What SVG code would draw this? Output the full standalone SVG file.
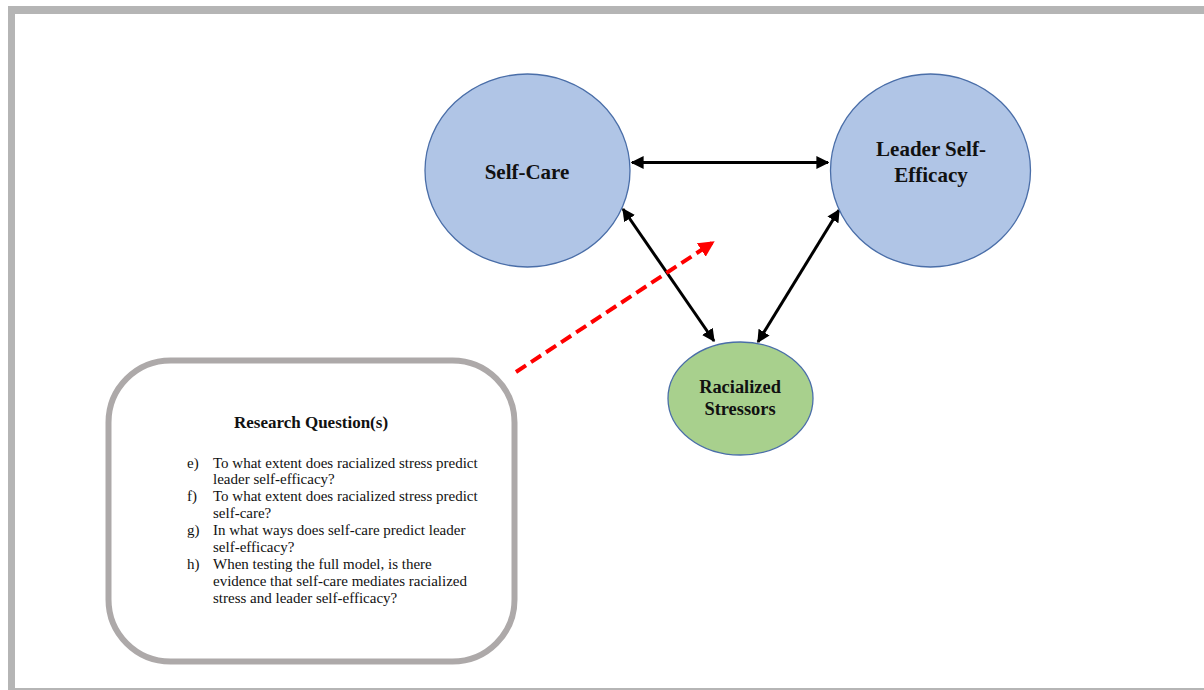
<svg xmlns="http://www.w3.org/2000/svg" width="1204" height="690" viewBox="0 0 1204 690">
<defs>
<style>
.node-blue{fill:#b0c5e6;stroke:#4a6ea8;stroke-width:1.3}
.node-green{fill:#a8d08d;stroke:#4a6ea8;stroke-width:1.3}
.lbl{font-family:"Liberation Serif","Times New Roman",serif;font-weight:bold;fill:#111;text-anchor:middle}
.rq{font-family:"Liberation Serif","Times New Roman",serif;font-size:15px;fill:#111}
.conn{stroke:#000;stroke-width:3;fill:none;marker-start:url(#ah);marker-end:url(#ah)}
</style>
<marker id="ah" viewBox="0 0 10 10" refX="9" refY="5" markerWidth="4.3" markerHeight="4.3" orient="auto-start-reverse" markerUnits="strokeWidth">
<path d="M0,0 L10,5 L0,10 z" fill="#000"/>
</marker>
<marker id="rh" viewBox="0 0 10 10" refX="8" refY="5" markerWidth="4" markerHeight="4" orient="auto" markerUnits="strokeWidth">
<path d="M0,0 L10,5 L0,10 z" fill="#ff0000"/>
</marker>
</defs>
<rect x="0" y="0" width="1204" height="690" fill="#fff"/>
<g id="frame">
<rect x="8" y="6" width="1196" height="8" fill="#b5b5b5"/>
<rect x="8" y="6" width="7" height="684" fill="#b5b5b5"/>
<rect x="8" y="688" width="1196" height="2" fill="#b5b5b5"/>
</g>
<g id="connectors">
<line class="conn" x1="632" y1="162.5" x2="828" y2="162.5"/>
<line class="conn" x1="623" y1="209" x2="714" y2="341"/>
<line class="conn" x1="839" y1="210" x2="758" y2="342"/>
<line x1="516" y1="372" x2="712" y2="243" stroke="#ff0000" stroke-width="4" stroke-dasharray="12,6" marker-end="url(#rh)"/>
</g>
<g id="self-care">
<ellipse class="node-blue" cx="527.5" cy="170.5" rx="102.5" ry="96.5"/>
<text class="lbl" x="527" y="179" font-size="21">Self-Care</text>
</g>
<g id="leader-self-efficacy">
<ellipse class="node-blue" cx="930.5" cy="170.5" rx="100" ry="96.5"/>
<text class="lbl" x="931" y="155.5" font-size="21">Leader Self-</text>
<text class="lbl" x="931" y="182" font-size="21">Efficacy</text>
</g>
<g id="racialized-stressors">
<ellipse class="node-green" cx="740.5" cy="398.5" rx="72.5" ry="56.5"/>
<text class="lbl" x="740" y="392.5" font-size="18.4">Racialized</text>
<text class="lbl" x="740" y="415" font-size="18.4">Stressors</text>
</g>
<g id="research-questions">
<rect x="108.5" y="360.5" width="406" height="301" rx="62" ry="62" fill="#fff" stroke="#ada9a9" stroke-width="6"/>
<text class="lbl" x="311" y="428" font-size="17">Research Question(s)</text>
<g class="rq">
<text x="187" y="468">e)</text>
<text x="213" y="468">To what extent does racialized stress predict</text>
<text x="213" y="484">leader self-efficacy?</text>
<text x="187" y="501">f)</text>
<text x="213" y="501">To what extent does racialized stress predict</text>
<text x="213" y="518">self-care?</text>
<text x="187" y="535">g)</text>
<text x="213" y="535">In what ways does self-care predict leader</text>
<text x="213" y="552">self-efficacy?</text>
<text x="187" y="569">h)</text>
<text x="213" y="569">When testing the full model, is there</text>
<text x="213" y="586">evidence that self-care mediates racialized</text>
<text x="213" y="603">stress and leader self-efficacy?</text>
</g>
</g>
</svg>
